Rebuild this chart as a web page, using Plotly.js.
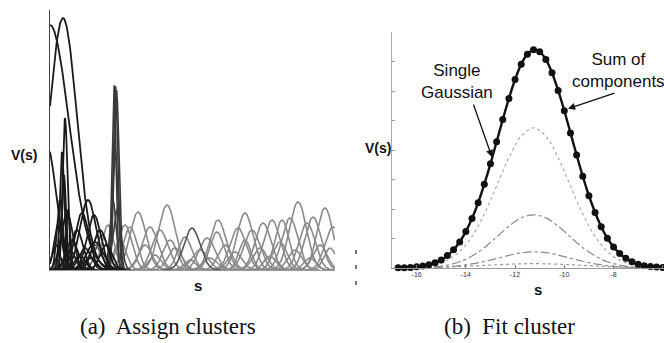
<!DOCTYPE html>
<html><head><meta charset="utf-8">
<script src="https://cdn.plot.ly/plotly-3.0.1.min.js"></script>
<style>html,body{margin:0;padding:0;background:#fff}#chart{width:664px;height:343px}</style>
</head><body><div id="chart"></div>
<script>
// ---------- Panel (a): Gaussian cluster components ----------
// (centre, peak height, width) in the panel's own s / V(s) units
const darkCentres = [13, 0, -3, 12, 15, 14, 10, 18, 17, 32, 38, 44, 27, 50, 22, 45, 56, 8, 6, 20, 35, 30, 40, 12];
const darkHeights = [252, 245, 125, 118, 152, 95, 70, 60, 57, 57, 70, 55, 40, 40, 30, 28, 25, 45, 25, 20, 22, 15, 12, 35];
const darkWidths  = [14, 19, 9, 2.2, 2.5, 2, 3, 2, 6, 7, 8, 7, 6, 7, 6, 8, 6, 4, 4, 5, 6, 5, 6, 3];

const spikeCentres = [64, 65.5, 66.5, 65, 63, 67];
const spikeHeights = [185, 184, 180, 120, 70, 60];
const spikeWidths  = [2, 2.2, 2.5, 3, 3, 4];

const midCentres = [142, 52, 45];
const midHeights = [42, 35, 25];
const midWidths  = [8, 6, 6];

const greyCentres = [58, 75, 88, 117, 168, 195, 213, 222, 232, 248, 263, 275, 80, 100, 110, 135, 157, 167, 188, 202, 240, 257, 283, 70, 95, 125, 150, 175, 185, 210, 230, 245, 270, 280, 105, 160, 220, 260, 140, 120, 195];
const greyHeights = [45, 45, 58, 65, 50, 57, 47, 50, 50, 68, 53, 62, 43, 43, 40, 33, 32, 38, 42, 40, 52, 47, 43, 30, 25, 22, 20, 25, 18, 22, 28, 20, 25, 22, 15, 12, 14, 12, 10, 30, 30];
const greyWidths  = [6, 7, 8, 8.5, 8, 8, 8, 8, 7, 8.5, 8, 8, 7, 8, 8, 7, 8, 7, 8, 8, 8, 8, 8, 6, 7, 7, 8, 7, 7, 7, 7, 7, 7, 6, 6, 7, 6, 6, 6, 7, 6];

// ---------- Panel (b): fitted cluster ----------
const sMarkers = [-16.75, -16.5, -16.25, -16, -15.75, -15.5, -15.25, -15, -14.75, -14.5, -14.25, -14, -13.75, -13.5, -13.25, -13, -12.75, -12.5, -12.25, -12, -11.75, -11.5, -11.25, -11, -10.75, -10.5, -10.25, -10, -9.75, -9.5, -9.25, -9, -8.75, -8.5, -8.25, -8, -7.75, -7.5, -7.25, -7, -6.75, -6.5, -6.25, -6];
const sumValues = [0.01, 0.01, 0.02, 0.04, 0.07, 0.11, 0.18, 0.27, 0.42, 0.62, 0.88, 1.24, 1.68, 2.21, 2.84, 3.53, 4.28, 5.03, 5.75, 6.39, 6.91, 7.25, 7.40, 7.33, 7.07, 6.62, 6.02, 5.33, 4.58, 3.83, 3.11, 2.45, 1.88, 1.40, 1.01, 0.71, 0.49, 0.33, 0.21, 0.13, 0.08, 0.05, 0.03, 0.02];

const sComp = [-16.75, -16.25, -15.75, -15.25, -14.75, -14.25, -13.75, -13.25, -12.75, -12.25, -11.75, -11.25, -10.75, -10.25, -9.75, -9.25, -8.75, -8.25, -7.75, -7.25, -6.75, -6.25, -5.75];
const comp1 = [0.00, 0.01, 0.04, 0.11, 0.26, 0.56, 1.07, 1.83, 2.78, 3.74, 4.47, 4.75, 4.47, 3.74, 2.78, 1.83, 1.07, 0.56, 0.26, 0.11, 0.04, 0.01, 0.00];
const comp2 = [0.00, 0.00, 0.01, 0.04, 0.10, 0.21, 0.41, 0.69, 1.05, 1.42, 1.70, 1.80, 1.70, 1.42, 1.05, 0.69, 0.41, 0.21, 0.10, 0.04, 0.01, 0.00, 0.00];
const comp3 = [0.00, 0.00, 0.01, 0.02, 0.04, 0.08, 0.14, 0.22, 0.32, 0.43, 0.51, 0.55, 0.52, 0.44, 0.33, 0.23, 0.14, 0.08, 0.04, 0.02, 0.01, 0.00, 0.00];
const comp4 = [0.00, 0.01, 0.01, 0.02, 0.03, 0.05, 0.07, 0.09, 0.11, 0.13, 0.14, 0.15, 0.14, 0.13, 0.11, 0.09, 0.07, 0.05, 0.03, 0.02, 0.01, 0.01, 0.00];
const xTicks = [-16, -14, -12, -10, -8, -6];

// ---------- build traces ----------
const W = 664, H = 343;
const px = v => v / W, py = v => 1 - v / H;
const traces = [];

function bumps(cs, hs, ws, color, width) {
  cs.forEach((c, i) => {
    const xs = [], ys = [];
    const lo = Math.max(0, c - 3.6 * ws[i]), hi = Math.min(285, c + 3.6 * ws[i]);
    const step = Math.min(0.5, ws[i] / 6);
    for (let x = lo; x <= hi + 1e-9; x += step) {
      xs.push(x);
      ys.push(hs[i] * Math.exp(-((x - c) * (x - c)) / (2 * ws[i] * ws[i])));
    }
    traces.push({x: xs, y: ys, type: 'scatter', mode: 'lines', xaxis: 'x', yaxis: 'y',
      line: {color: color, width: width}, hoverinfo: 'skip'});
  });
}
bumps(greyCentres, greyHeights, greyWidths, '#8a8a8a', 1.6);
bumps(midCentres, midHeights, midWidths, '#555555', 1.6);
bumps(spikeCentres, spikeHeights, spikeWidths, '#3a3a3a', 1.6);
bumps(darkCentres, darkHeights, darkWidths, '#1a1a1a', 1.8);

const compStyles = [
  [comp1, '#a8a8a8', 'dot'], [comp2, '#8a8a8a', 'dashdot'],
  [comp3, '#8a8a8a', 'dashdot'], [comp4, '#999999', 'dot']
];
compStyles.forEach(([vals, col, dash]) => traces.push({
  x: sComp, y: vals, type: 'scatter', mode: 'lines', xaxis: 'x2', yaxis: 'y2',
  line: {color: col, width: 1.2, dash: dash, shape: 'spline'}, hoverinfo: 'skip'
}));
traces.push({
  x: sMarkers, y: sumValues, type: 'scatter', mode: 'lines+markers', xaxis: 'x2', yaxis: 'y2',
  line: {color: '#111', width: 2.4, shape: 'spline'},
  marker: {color: '#111', size: 7}, cliponaxis: false, hoverinfo: 'skip'
});

const lab = {family: 'Liberation Sans, Arial, sans-serif', size: 14, color: '#111', weight: 'bold'};
const cap = {family: 'Liberation Serif, Times New Roman, serif', size: 23, color: '#111'};
const note = {family: 'Liberation Sans, Arial, sans-serif', size: 17, color: '#111'};

function txt(x, y, text, font, xa) {
  return {x: px(x), y: py(y), xref: 'paper', yref: 'paper', text: text, showarrow: false,
    font: font, xanchor: xa || 'center', yanchor: 'middle'};
}

const annotations = [
  txt(24, 155, 'V(s)', lab),
  txt(378, 148, 'V(s)', lab),
  txt(198, 285, 's', Object.assign({}, lab, {size: 15})),
  txt(538, 289, 's', Object.assign({}, lab, {size: 15})),
  txt(457, 82, 'Single<br>Gaussian', note),
  txt(618, 70, 'Sum of<br>components', note),
  {x: -12.94, y: 3.76, xref: 'x2', yref: 'y2', ax: -19, ay: -54, text: '', showarrow: true,
   arrowhead: 2, arrowsize: 1.1, arrowwidth: 1.3, arrowcolor: '#111'},
  {x: -9.85, y: 5.4, xref: 'x2', yref: 'y2', ax: 48, ay: -16, text: '', showarrow: true,
   arrowhead: 2, arrowsize: 1.1, arrowwidth: 1.3, arrowcolor: '#111'},
  txt(78, 326, '(a)\u00a0 Assign clusters', cap, 'left'),
  txt(442, 326, '(b)\u00a0 Fit cluster', cap, 'left')
];

const shapes = [[250, 254], [265, 269], [281, 285]].map(([a, b]) => ({
  type: 'line', xref: 'paper', yref: 'paper', x0: px(356), x1: px(356), y0: py(a), y1: py(b),
  line: {color: '#555', width: 1.6}
}));

const layout = {
  width: W, height: H, margin: {l: 0, r: 0, t: 0, b: 0},
  paper_bgcolor: '#fff', plot_bgcolor: 'rgba(0,0,0,0)', showlegend: false,
  xaxis: {domain: [px(50), px(335)], range: [0, 285], showgrid: false, zeroline: false,
    showline: true, linecolor: '#9a9a9a', linewidth: 1, showticklabels: false, ticks: '', fixedrange: true},
  yaxis: {domain: [py(270), py(10)], range: [0, 260], showgrid: false, zeroline: false,
    showline: true, linecolor: '#444', linewidth: 1.3, showticklabels: false, ticks: '', fixedrange: true},
  xaxis2: {domain: [px(392), 1], range: [-17, -5.95], anchor: 'y2', showgrid: false, zeroline: false,
    showline: true, linecolor: '#999', linewidth: 1, ticks: 'inside', ticklen: 3, tickcolor: '#777',
    tickvals: xTicks, ticktext: xTicks.map(String),
    tickfont: {family: 'Liberation Sans, Arial, sans-serif', size: 7, color: '#333'}},
  yaxis2: {domain: [py(268), py(32)], range: [0, 8], anchor: 'x2', showgrid: false, zeroline: false,
    showline: true, linecolor: '#aaa', linewidth: 1, ticks: 'inside', ticklen: 3, tickcolor: '#999',
    dtick: 1, showticklabels: false},
  annotations: annotations, shapes: shapes
};

Plotly.newPlot('chart', traces, layout, {staticPlot: true, displayModeBar: false});
</script></body></html>
